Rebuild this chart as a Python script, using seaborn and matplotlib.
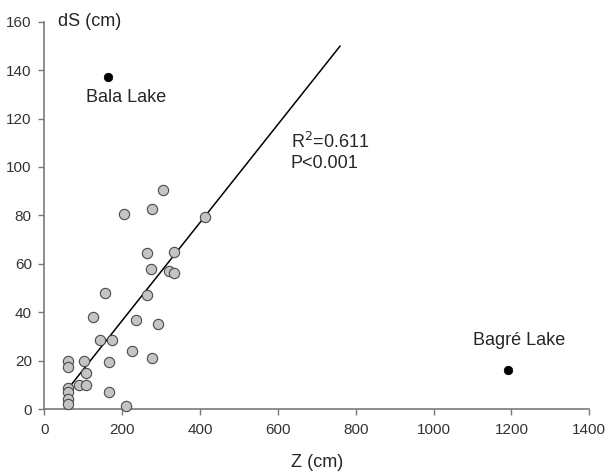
import numpy as np
import pandas as pd
import matplotlib
matplotlib.use("Agg")
import matplotlib.pyplot as plt
import seaborn as sns

# ------------------------
# Data
# ------------------------
z_cm = [304, 205, 276, 413, 263, 333, 274, 321, 334, 156, 263, 124, 235, 293,
        144, 175, 225, 276, 165, 60, 60, 103, 107, 90, 107, 60, 60, 60, 60,
        165, 209]
ds_cm = [90.6, 80.6, 82.6, 79.2, 64.5, 64.8, 57.9, 57.2, 56.2, 48.0, 46.9,
         38.1, 36.6, 35.2, 28.6, 28.7, 23.8, 21.2, 19.3, 20.0, 17.3, 20.0,
         14.8, 10.0, 10.0, 8.7, 6.9, 4.2, 2.1, 6.9, 1.4]

outlier_names = ["Bala Lake", "Bagré Lake"]
outlier_z = [164, 1192]
outlier_ds = [137.3, 16.1]

fit_slope = 0.2026
fit_intercept = -4.0
fit_z = [60, 760]
fit_r2 = "0.611"
fit_p = "P<0.001"

x_ticks = [0, 200, 400, 600, 800, 1000, 1200, 1400]
y_ticks = [0, 20, 40, 60, 80, 100, 120, 140, 160]

# ------------------------
# Plot
# ------------------------
sns.set_style("white")
plt.rcParams["font.family"] = ["Liberation Sans", "DejaVu Sans"]

fig = plt.figure(figsize=(6.06, 4.73), dpi=100)
ax = fig.add_axes([0.0731, 0.1353, 0.8993, 0.8188])

spine_col = "#7a7a7a"
text_col = "#262626"

fit_df = pd.DataFrame({"z": fit_z})
fit_df["ds"] = fit_slope * fit_df["z"] + fit_intercept
sns.lineplot(data=fit_df, x="z", y="ds", color="black", linewidth=1.1, ax=ax, zorder=2)

pts = pd.DataFrame({"z": z_cm, "ds": ds_cm})
sns.scatterplot(data=pts, x="z", y="ds", s=55, color="#c4c4c4", edgecolor="#4a4a4a",
                linewidth=0.8, ax=ax, zorder=3, clip_on=False)

out = pd.DataFrame({"z": outlier_z, "ds": outlier_ds, "name": outlier_names})
sns.scatterplot(data=out, x="z", y="ds", s=38, color="black", edgecolor="black",
                ax=ax, zorder=3, clip_on=False)

ax.text(210, 128.5, outlier_names[0], ha="center", va="center", fontsize=13, color=text_col)
ax.text(1220, 28.5, outlier_names[1], ha="center", va="center", fontsize=13, color=text_col)
ax.text(633, 107.8, "R$^2$=" + fit_r2, fontsize=13, color=text_col, va="baseline")
ax.text(633, 99.6, fit_p, fontsize=13, color=text_col, va="baseline")

ax.set_xlim(0, 1400)
ax.set_ylim(0, 160)
ax.set_xticks(x_ticks)
ax.set_yticks(y_ticks)
ax.tick_params(axis="both", direction="out", length=4, width=1, color=spine_col,
               labelsize=11, labelcolor="#333333", bottom=True, left=True)
ax.tick_params(axis="x", pad=6)
ax.tick_params(axis="y", pad=5)
for side in ["top", "right"]:
    ax.spines[side].set_visible(False)
for side in ["left", "bottom"]:
    ax.spines[side].set_color(spine_col)
    ax.spines[side].set_linewidth(1.2)

ax.set_xlabel("Z (cm)", fontsize=13, color=text_col)
ax.xaxis.set_label_coords(0.5, -0.115)
ax.set_ylabel("")
ax.text(36, 158.2, "dS (cm)", fontsize=13, color=text_col, va="baseline")

plt.savefig("out.png", dpi=100)
